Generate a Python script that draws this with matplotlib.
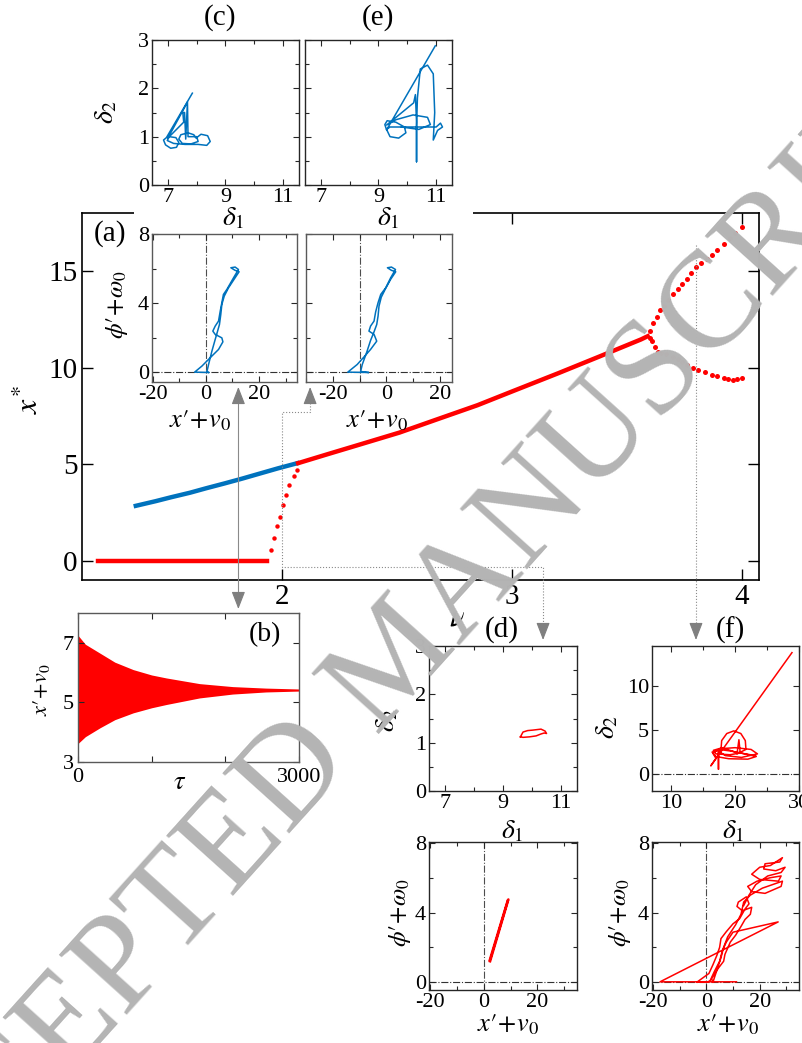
import matplotlib
matplotlib.use('Agg')
import matplotlib.pyplot as plt
from matplotlib.transforms import blended_transform_factory
from matplotlib.patches import Rectangle, FancyArrowPatch
from matplotlib.lines import Line2D
from matplotlib.ticker import MultipleLocator

plt.rcParams['font.family'] = ['Liberation Serif', 'DejaVu Serif']
plt.rcParams['mathtext.fontset'] = 'stix'
plt.rcParams['axes.unicode_minus'] = False

RED = '#ff0000'
BLUE = '#0072bd'
GREY = '#8a8a8a'

# ---------------- (a) bifurcation diagram x* vs nu ----------------
nu_flat = [1.20, 1.30, 1.40, 1.50, 1.60, 1.70, 1.80, 1.90, 1.935]
x_flat = [0, 0, 0, 0, 0, 0, 0, 0, 0]

nu_jump = [1.953, 1.967, 1.980, 1.993, 2.004, 2.016, 2.030, 2.050, 2.067]
x_jump = [0.55, 1.16, 1.82, 2.28, 2.89, 3.41, 3.93, 4.36, 4.70]

nu_blue = [1.364, 1.45, 1.516, 1.60, 1.67, 1.75, 1.827, 1.90, 1.982, 2.067]
x_blue = [2.84, 3.08, 3.28, 3.52, 3.75, 4.00, 4.25, 4.50, 4.78, 5.05]

nu_up = [2.07, 2.20, 2.34, 2.51, 2.67, 2.85, 3.00, 3.20, 3.38, 3.56, 3.59]
x_up = [5.05, 5.52, 6.02, 6.63, 7.30, 8.05, 8.76, 9.70, 10.57, 11.45, 11.62]

nu_hi = [3.60, 3.615, 3.63, 3.645, 3.66, 3.68, 3.70, 3.72, 3.74, 3.76,
         3.78, 3.80, 3.82, 3.85, 3.87, 3.89, 3.92, 3.95, 3.97, 4.00]
x_hi = [11.9, 12.3, 12.6, 13.0, 13.2, 13.5, 13.8, 14.04, 14.3, 14.6,
        14.9, 15.18, 15.4, 15.6, 15.85, 16.1, 16.4, 16.7, 16.95, 17.25]

nu_lo = [3.60, 3.61, 3.62, 3.635, 3.65, 3.67, 3.70, 3.72, 3.74, 3.76,
         3.787, 3.81, 3.84, 3.87, 3.89, 3.92, 3.94, 3.96, 3.98, 4.00]
x_lo = [11.55, 11.35, 11.05, 10.8, 10.75, 10.7, 10.57, 10.45, 10.3, 10.15,
        10.0, 9.85, 9.75, 9.62, 9.55, 9.48, 9.42, 9.38, 9.40, 9.48]

# nu values linked to the side panels
nu_link_bc = 1.81
nu_link_de = 2.0
nu_link_f = 3.8

# ---------------- (b) time series envelope ----------------
tau_b = [0, 100, 300, 500, 750, 1000, 1200, 1650, 2100, 2550, 3000]
x_b_hi = [7.25, 6.95, 6.65, 6.35, 6.10, 5.92, 5.82, 5.63, 5.53, 5.48, 5.45]
x_b_lo = [3.62, 3.85, 4.15, 4.42, 4.65, 4.82, 4.93, 5.15, 5.28, 5.35, 5.38]

# ---------------- (c),(e),(d),(f): delta1 vs delta2 ----------------
c_d1 = [7.85, 6.95, 6.85, 6.92, 7.10, 7.30, 7.38, 7.28, 7.05, 6.98, 7.20, 7.60, 8.05,
        8.35, 8.47, 8.38, 8.15, 7.98, 7.90, 7.70, 7.45, 7.38, 7.50, 7.80, 8.05, 8.00,
        7.70, 7.68, 7.62, 7.58, 7.52, 7.55, 7.00, 7.65]
c_d2 = [1.90, 0.98, 0.93, 0.83, 0.76, 0.78, 0.88, 0.98, 1.00, 0.92, 0.86, 0.84, 0.84,
        0.82, 0.90, 1.02, 1.05, 0.97, 1.04, 1.08, 1.04, 0.95, 0.86, 0.85, 0.90, 1.00,
        1.00, 1.72, 0.95, 1.50, 1.50, 1.30, 0.97, 1.68]

e_d1 = [10.97, 9.28, 9.22, 9.30, 9.60, 9.90, 9.95, 9.70, 9.40, 9.28, 9.40, 10.00, 10.60,
        11.00, 11.15, 11.22, 11.05, 10.90, 10.95, 10.90, 10.70, 10.45, 10.35, 10.32, 10.32,
        10.32, 10.28, 10.22, 9.28, 9.60, 10.20, 10.70, 10.80, 10.40, 9.80]
e_d2 = [2.88, 1.14, 1.25, 1.33, 1.30, 1.20, 1.08, 0.97, 1.00, 1.15, 1.20, 1.20, 1.20,
        1.20, 1.28, 1.20, 1.13, 0.93, 1.50, 2.30, 2.48, 2.40, 1.80, 1.20, 0.48,
        1.30, 1.87, 1.70, 1.24, 1.35, 1.45, 1.40, 1.25, 1.15, 1.20]

d_d1 = [9.60, 9.69, 9.85, 10.03, 10.31, 10.45, 10.50, 10.42, 10.31, 10.14, 9.91, 9.69, 9.60]
d_d2 = [1.12, 1.22, 1.25, 1.26, 1.28, 1.24, 1.19, 1.20, 1.18, 1.14, 1.12, 1.11, 1.12]

f_d1 = [28.9, 16.2, 17.0, 16.5, 17.5, 19.5, 21.5, 23.3, 22.0, 19.0, 17.0, 16.4, 18.0, 20.0,
        22.5, 23.5, 21.0, 18.5, 17.4, 17.4, 17.4, 17.8, 17.9, 18.7, 19.8, 20.9, 21.6, 21.7,
        20.3, 20.6, 20.8, 19.2, 17.0, 16.6, 18.0, 20.0, 23.2]
f_d2 = [13.75, 0.94, 1.8, 2.4, 2.8, 2.6, 2.3, 2.0, 1.7, 1.75, 2.0, 2.5, 2.9, 3.0,
        2.8, 2.3, 1.9, 2.1, 2.6, 0.56, 2.6, 2.8, 3.8, 4.6, 4.9, 4.6, 3.8, 2.8,
        2.3, 3.9, 2.4, 2.2, 2.3, 2.7, 3.0, 2.5, 2.1]

# ---------------- (c'),(e'),(d'),(f'): x'+v0 vs phi'+w0 ----------------
cp_x = [1.0, -4.25, -1.5, 1.6, 4.75, 6.4, 6.0, 3.5, 2.6, 3.5, 4.75, 5.4, 6.0, 6.6, 7.9,
        10.4, 12.25, 11.0, 9.4, 11.0, 12.5, 10.6, 8.5, 6.9, 6.0, 5.6, 5.1, 4.4, 3.5,
        2.25, 1.0, 0.4, 1.0]
cp_y = [0.0, 0.02, 0.37, 0.85, 1.33, 1.77, 2.0, 2.2, 2.39, 2.68, 2.97, 3.55, 4.03, 4.51,
        4.80, 5.47, 5.95, 6.09, 6.05, 5.90, 5.82, 5.38, 4.89, 4.41, 3.93, 3.35, 2.77,
        2.39, 1.91, 1.23, 0.46, 0.06, 0.0]

ep_x = [-6.75, -14.4, -10.9, -8.4, -5.9, -3.6, -4.6, -6.5, -5.9, -4.6, -4.0, -3.1, -2.1,
        -0.25, 1.6, 3.4, 1.9, 0.4, 1.9, 3.5, 1.6, -0.25, -1.9, -2.75, -3.1, -3.6, -4.6,
        -5.9, -7.4, -9.0, -9.6, -6.75]
ep_y = [0.0, 0.02, 0.46, 0.89, 1.33, 1.81, 2.2, 2.39, 2.68, 2.97, 3.5, 4.03, 4.51,
        4.89, 5.47, 5.95, 6.09, 6.05, 5.90, 5.82, 5.38, 4.86, 4.35, 3.83, 3.26, 2.77, 2.35,
        1.85, 1.14, 0.46, 0.06, 0.0]

dp_x = [2.25, 9.0, 9.2, 2.4]
dp_y = [1.25, 4.71, 4.75, 1.20]

fp_x = [11.3, -17.3, 26.9, 10.0, 7.5, 6.0, 5.0, 3.0, 1.5, 0.5, -3.5, 1.0, 2.5, 4.0, 5.0,
        5.5, 7.5, 10.0, 12.5, 14.5, 16.0, 15.0, 12.0, 11.5, 13.5, 17.0, 16.5, 14.5, 13.0,
        11.0, 9.0, 7.0, 6.5, 4.5, 2.0, 2.5, 4.0, 5.5, 6.5, 8.0, 11.0, 13.0, 14.0, 16.5,
        21.0, 28.5, 28.0, 22.0, 17.0, 15.5, 19.0, 24.0, 28.0, 27.0, 20.0, 17.0, 20.0,
        24.0, 28.5, 27.5, 22.0, 21.5, 26.0, 29.5, 28.0, 23.0, 18.5, 16.0, 14.0]
fp_y = [0.02, 0.02, 3.46, 2.87, 2.3, 1.8, 1.2, 0.6, 0.1, 0.0, 0.0, 0.5, 1.0, 1.55, 2.0,
        2.5, 2.9, 3.35, 3.65, 4.2, 4.5, 4.9, 4.6, 4.35, 4.1, 4.3, 3.9, 3.6, 3.2,
        2.7, 2.3, 1.6, 1.2, 0.8, 0.2, 0.0, 0.7, 1.4, 2.0, 2.6, 3.3, 3.9, 4.6, 5.0,
        5.4, 5.8, 5.5, 5.1, 5.2, 5.5, 5.8, 6.0, 6.1, 5.8, 5.9, 6.2, 6.6,
        6.7, 7.15, 6.9, 6.8, 6.5, 6.4, 6.6, 6.3, 6.1, 5.6, 5.0, 4.4]

# ---------------- layout helpers (pixel boxes) ----------------
W, H = 803, 1043


def box(l, t, r, b):
    return [l / W, 1 - b / H, (r - l) / W, (b - t) / H]


def fy(y):
    return 1 - y / H


fig = plt.figure(figsize=(W / 100, H / 100), dpi=100)


def style(ax, size=16, spine='0.15'):
    for s in ax.spines.values():
        s.set_color(spine)
        s.set_linewidth(1.0)
    ax.tick_params(which='both', direction='in', top=True, right=True,
                   labelsize=size, colors='0.15', labelcolor='black')
    ax.tick_params(which='major', length=4.5, width=0.8, pad=2)
    ax.tick_params(which='minor', length=3, width=0.8)


def zero_lines(ax, x0=None):
    ax.axhline(0, color='0.2', lw=0.8, ls='-.', zorder=1)
    if x0 is not None:
        ax.axvline(x0, color='0.3', lw=0.8, ls='-.', zorder=1)


# ---- main (a)
ax = fig.add_axes(box(82, 213, 759, 580))
ax.set_zorder(0)
ax.plot(nu_flat, x_flat, '-', color=RED, lw=3.2)
ax.plot(nu_jump, x_jump, 'o', color=RED, ms=3.2, mec='none')
ax.plot(nu_blue, x_blue, '-', color=BLUE, lw=3.2)
ax.plot(nu_up, x_up, '-', color=RED, lw=3.2)
ax.plot(nu_hi, x_hi, 'o', color=RED, ms=3.6, mec='none')
ax.plot(nu_lo, x_lo, 'o', color=RED, ms=3.6, mec='none')
ax.set_xlim(1.13, 4.074)
ax.set_ylim(-1.0, 18.0)
ax.set_xticks([2, 3, 4])
ax.set_yticks([0, 5, 10, 15])
for s in ax.spines.values():
    s.set_linewidth(1.2)
ax.tick_params(direction='in', top=True, right=True, labelsize=21,
               length=8, width=1.0, pad=3)

# white backing behind the top insets (hides part of the frame)
fig.add_artist(Rectangle((134 / W, fy(400)), (473 - 134) / W, 400 / H,
                         transform=fig.transFigure, facecolor='white',
                         edgecolor='none', zorder=1))

# ---- (c) and (e)
for rect, dx, dy, ylab in [((152, 40, 299, 185), c_d1, c_d2, True),
                           ((305, 40, 452, 185), e_d1, e_d2, False)]:
    a = fig.add_axes(box(*rect))
    a.set_zorder(2)
    a.plot(dx, dy, '-', color=BLUE, lw=1.1)
    a.set_xlim(6.45, 11.55)
    a.set_ylim(0, 3)
    a.set_xticks([7, 9, 11])
    a.xaxis.set_minor_locator(MultipleLocator(1))
    a.set_yticks([0, 1, 2, 3])
    a.yaxis.set_minor_locator(MultipleLocator(0.5))
    style(a)
    if not ylab:
        a.set_yticklabels([])

# ---- (c') and (e')
for rect, px, py, xlim, x0 in [((152, 234, 297, 382), cp_x, cp_y, (-20.3, 34.3), 0),
                               ((306, 234, 452, 382), ep_x, ep_y, (-30.0, 24.5), -10)]:
    a = fig.add_axes(box(*rect))
    a.set_zorder(2)
    zero_lines(a, x0)
    a.plot(px, py, '-', color=BLUE, lw=1.1, zorder=3)
    a.set_xlim(*xlim)
    a.set_ylim(-0.55, 8.0)
    a.set_xticks([-20, 0, 20])
    a.xaxis.set_minor_locator(MultipleLocator(10))
    a.set_yticks([0, 4, 8])
    a.yaxis.set_minor_locator(MultipleLocator(2))
    style(a, spine='0.35')
    if x0 != 0:
        a.set_yticklabels([])

# ---- (b)
a = fig.add_axes(box(78, 613, 299, 762))
a.set_zorder(2)
a.fill_between(tau_b, x_b_lo, x_b_hi, color=RED, lw=0)
a.set_xlim(0, 3000)
a.set_ylim(3, 8)
a.set_xticks([0, 1000, 2000, 3000])
a.set_xticklabels(['0', '', '', '3000'])
a.set_yticks([3, 5, 7])
style(a, size=16, spine='0.35')
a.tick_params(axis='x', pad=4)
a.tick_params(axis='y', pad=3)

# ---- (d) and (f)
a = fig.add_axes(box(429, 646, 577, 791))
a.set_zorder(2)
a.plot(d_d1, d_d2, '-', color=RED, lw=1.1)
a.set_xlim(6.45, 11.55)
a.set_ylim(0, 3)
a.set_xticks([7, 9, 11])
a.xaxis.set_minor_locator(MultipleLocator(1))
a.set_yticks([0, 1, 2, 3])
a.yaxis.set_minor_locator(MultipleLocator(0.5))
style(a)

a = fig.add_axes(box(652, 646, 799, 791))
a.set_zorder(2)
zero_lines(a)
a.plot(f_d1, f_d2, '-', color=RED, lw=1.1, zorder=3)
a.set_xlim(7, 30)
a.set_ylim(-1.9, 14.5)
a.set_xticks([10, 20, 30])
a.xaxis.set_minor_locator(MultipleLocator(5))
a.set_yticks([0, 5, 10])
style(a)

# ---- (d') and (f')
for rect, px, py, lw in [((429, 842, 577, 990), dp_x, dp_y, 1.8),
                         ((652, 842, 799, 990), fp_x, fp_y, 1.1)]:
    a = fig.add_axes(box(*rect))
    a.set_zorder(2)
    zero_lines(a, 0)
    a.plot(px, py, '-', color=RED, lw=lw, zorder=3)
    a.set_xlim(-20.3, 34.7)
    a.set_ylim(-0.45, 8.05)
    a.set_xticks([-20, 0, 20])
    a.xaxis.set_minor_locator(MultipleLocator(10))
    a.set_yticks([0, 4, 8])
    a.yaxis.set_minor_locator(MultipleLocator(2))
    style(a)

# ---------------- link arrows (x in nu, y in figure) ----------------
bt = blended_transform_factory(ax.transData, fig.transFigure)
nu_e = 2.122   # below panel (e')
nu_d = 3.135   # above panel (d)


def path(xs, ys, ls):
    fig.add_artist(Line2D(xs, [fy(v) for v in ys], transform=bt, color=GREY,
                          lw=0.8, ls=ls, zorder=5))


def head(x, y0, y1):
    fig.add_artist(FancyArrowPatch((x, fy(y0)), (x, fy(y1)), transform=bt,
                                   arrowstyle='-|>,head_length=0.9,head_width=0.35',
                                   mutation_scale=12, color='#7f7f7f', lw=0.8,
                                   shrinkA=0, shrinkB=0, zorder=5))


path([nu_link_bc, nu_link_bc], [397, 598], '-')
head(nu_link_bc, 400, 387)
head(nu_link_bc, 596, 609)

path([nu_e, nu_e, nu_link_de, nu_link_de, nu_d, nu_d], [397, 412, 412, 567, 567, 628], ':')
head(nu_e, 400, 387)
head(nu_d, 626, 640)

path([nu_link_f, nu_link_f], [245, 628], ':')
head(nu_link_f, 626, 640)

# ---------------- text labels ----------------
def lab(x, y, s, size, rot=0):
    fig.text(x / W, fy(y), s, fontsize=size, rotation=rot, ha='center',
             va='center', zorder=6)


xv = '$x\u2032\\!+\\!v_0$'
pw = '$\\phi\u2032\\!+\\!\\omega_0$'
lab(220, 18, '(c)', 21)
lab(378, 18, '(e)', 21)
lab(107, 112, r'$\delta_2$', 20, 90)
lab(233, 219, r'$\delta_1$', 20)
lab(388, 219, r'$\delta_1$', 20)
lab(110, 234, '(a)', 21)
lab(117, 305, pw, 18, 90)
lab(200, 421, xv, 19)
lab(377, 421, xv, 19)
lab(30, 400, r'$x^{*}$', 23, 90)
lab(457, 618, r'$\nu$', 22)
lab(265, 635, '(b)', 20)
lab(180, 783, r'$\tau$', 19)
lab(42, 690, xv, 16, 90)
lab(502, 630, '(d)', 21)
lab(730, 630, '(f)', 21)
lab(388, 720, r'$\delta_2$', 20, 90)
lab(608, 727, r'$\delta_2$', 20, 90)
lab(512, 832, r'$\delta_1$', 20)
lab(733, 832, r'$\delta_1$', 20)
lab(400, 913, pw, 18, 90)
lab(620, 913, pw, 18, 90)
lab(508, 1025, xv, 19)
lab(728, 1025, xv, 19)

# watermark
fig.text(399 / W, fy(662), 'ACCEPTED MANUSCRIPT', fontsize=99, rotation=48,
         rotation_mode='anchor', ha='center', va='center', color='#b4b4b4',
         zorder=20)

fig.savefig('out.png', dpi=100)
